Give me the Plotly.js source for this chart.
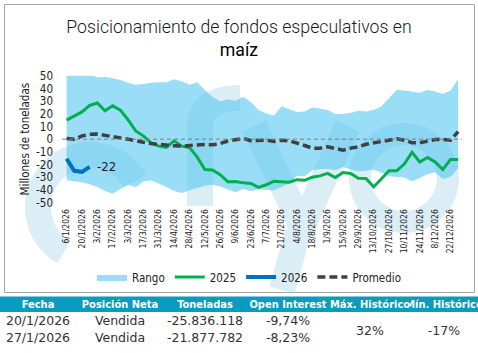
<!DOCTYPE html>
<html><head><meta charset="utf-8">
<script src="https://cdn.plot.ly/plotly-3.0.1.min.js"></script>
<style>html,body{margin:0;padding:0;background:#fff}#chart{width:478px;height:353px}</style>
</head><body><div id="chart"></div>
<script>
const weeks = ['6/1/2026','13/1/2026','20/1/2026','27/1/2026','3/2/2026','10/2/2026','17/2/2026','24/2/2026',
 '3/3/2026','10/3/2026','17/3/2026','24/3/2026','31/3/2026','7/4/2026','14/4/2026','21/4/2026','28/4/2026',
 '5/5/2026','12/5/2026','19/5/2026','26/5/2026','2/6/2026','9/6/2026','16/6/2026','23/6/2026','30/6/2026',
 '7/7/2026','14/7/2026','21/7/2026','28/7/2026','4/8/2026','11/8/2026','18/8/2026','25/8/2026',
 '1/9/2026','8/9/2026','15/9/2026','22/9/2026','29/9/2026','6/10/2026','13/10/2026','20/10/2026','27/10/2026',
 '3/11/2026','10/11/2026','17/11/2026','24/11/2026','1/12/2026','8/12/2026','15/12/2026','22/12/2026','29/12/2026'];
const rangoMax = [52,53,52,51,48.8,49,48,46.7,44.6,43,43.5,44.6,45,45,47.2,45.6,43,44.9,38.8,33.5,29.8,31.4,30.3,33.5,29.3,23,
 20.3,18.7,26,23.5,21.4,21.9,25,24,23,19.8,19.8,20.8,22.4,21.9,23,26,32.5,38.8,38.3,37.7,36.7,38.8,37.7,35.6,38.3,47.2];
const rangoMin = [-32.5,-33.5,-34,-35.6,-37.7,-40.9,-43,-39.3,-36,-38,-33.5,-32.5,-35,-37.7,-40.9,-42.5,-40.4,-38.3,-36.7,-36,
 -37.2,-39.8,-42,-39.3,-40.9,-39.5,-39.8,-40.4,-37.7,-35,-28.8,-29.3,-24.5,-23.5,-23.5,-24.5,-21.9,-24,-25.6,-25,-24,-26.6,
 -29.3,-29.8,-30.3,-33.5,-30.3,-27.7,-26.1,-31.4,-29.8,-23];
const serie2025 = [15,18,21.5,26.6,28.5,22.4,26.3,22.9,15.3,6.5,2.6,-3,-5.5,-6.6,-1.3,-5.5,-6.6,-14,-24,-24.3,-28,-33.7,-33.5,
 -34.5,-35,-38,-36,-33.2,-33.5,-34,-32,-32.5,-30,-29,-27,-30.3,-26.3,-27.1,-30.8,-31,-37.7,-31,-25,-25,-19.5,-10.3,-18,-14.5,
 -18,-24,-16,-16];
const serie2026 = [-15.5,-25,-25.8,-21.9];
const promedio = [0.5,0,2.5,3.8,4,3.2,2,1,0,-1.5,-2.5,-3.5,-4.3,-4.8,-5.3,-5.5,-5,-4.7,-4.2,-4.5,-3.5,-1.5,-0.6,0.6,-1.2,-0.8,
 -0.8,-1.8,-0.8,-1.3,-2.9,-5,-7.1,-7.1,-6,-7.7,-8.7,-7.1,-6,-4,-2.9,-1.8,-0.8,0.3,-0.8,-2.9,-2.9,-1.3,-0.3,-0.3,-0.8,6];
const yTickVals = [-50,-40,-30,-20,-10,0,10,20,30,40,50];
const yTickText = yTickVals.map(v => String(v));
const tableHeader = ['Fecha','Posición Neta','Toneladas','Open Interest','Máx. Histórico','Mín. Histórico'];
const tableFecha = ['20/1/2026','27/1/2026'];
const tablePosicion = ['Vendida','Vendida'];
const tableToneladas = ['-25.836.118','-21.877.782'];
const tableOI = ['-9,74%','-8,23%'];
const tableMax = ['32%'];
const tableMin = ['-17%'];

const W = 478, H = 353;
const NARROW = '"Liberation Sans Narrow", "Arial Narrow", "DejaVu Sans Condensed", sans-serif';
const px = v => v / W, py = v => 1 - v / H;
const nb = s => s.replace(/ /g, '\u00a0');
const CLEAR = 'rgba(0,0,0,0)';

const wmSvg = '<svg xmlns="http://www.w3.org/2000/svg" width="478" height="353" viewBox="0 0 478 353" preserveAspectRatio="none">' +
 '<g fill="none" stroke="#DCEEF5" stroke-width="26">' +
 '<path d="M 64,252 A 52,52 0 1 1 135,181"/>' +
 '<path d="M200,206 L200,128 Q200,98 240,98"/>' +
 '<path d="M254,126 L300,222"/>' +
 '<path d="M348,126 L296,240 L282,290"/>' +
 '<circle cx="404" cy="178" r="44" stroke-width="22"/>' +
 '</g></svg>';

const traces = [
 {type:'scatter', mode:'lines', x:weeks, y:rangoMin, line:{width:0}, showlegend:false, hoverinfo:'skip'},
 {type:'scatter', mode:'lines', x:weeks, y:rangoMax, name:'Rango', fill:'tonexty', fillcolor:'rgba(85,198,242,0.6)', line:{width:0}},
 {type:'scatter', mode:'lines', x:weeks, y:serie2025, name:'2025', line:{color:'#00B050', width:3}},
 {type:'scatter', mode:'lines', x:weeks.slice(0, serie2026.length), y:serie2026, name:'2026', line:{color:'#0070C0', width:4}},
 {type:'scatter', mode:'lines', x:weeks, y:promedio, name:'Promedio', line:{color:'#404040', width:3.5, dash:'8px,4px'}},
 {type:'table', domain:{x:[0,1], y:[py(352), py(291.5)]}, columnwidth:[76,88,82,84,80,68],
  header:{values:tableHeader.map(nb), fill:{color:CLEAR}, line:{width:0, color:CLEAR}, align:'center', height:16,
   font:{family:NARROW, size:11, color:'#fff', weight:'bold'}},
  cells:{values:[tableFecha, tablePosicion, tableToneladas, tableOI, ['',''], ['','']], fill:{color:CLEAR},
   line:{width:0, color:CLEAR}, align:'center', height:17.5, font:{family:'DejaVu Sans', size:12.5, color:'#333'}}},
 {type:'table', domain:{x:[px(330),1], y:[py(352), py(318)]}, columnwidth:[80,68],
  header:{values:[tableMax, tableMin], fill:{color:CLEAR}, line:{width:0, color:CLEAR}, align:'center', height:20,
   font:{family:'DejaVu Sans', size:12.5, color:'#333'}},
  cells:{values:[[''],['']], fill:{color:CLEAR}, line:{width:0, color:CLEAR}, height:10}}
];

const layout = {
 width:W, height:H, autosize:false, margin:{l:0,r:0,t:0,b:0}, paper_bgcolor:'#fff', plot_bgcolor:CLEAR,
 title:{text:'Posicionamiento de fondos especulativos en<br><span style="font-weight:400;color:#000">maíz</span>', xref:'container', x:0.5,
  y:py(33), yanchor:'top', font:{family:'Roboto', size:17.7, weight:300, color:'#1a1a1a'}},
 xaxis:{type:'category', domain:[px(62), px(462)], range:[-0.6, 51.5], tickmode:'linear', tick0:0, dtick:2, tickangle:-90,
  ticks:'', ticklabelstandoff:4, showgrid:false, zeroline:false, showline:false, fixedrange:true,
  tickfont:{family:NARROW, size:8.5, color:'#222'}},
 yaxis:{domain:[py(202.5), py(75.8)], range:[-50,50], tickvals:yTickVals, ticktext:yTickText, ticks:'', ticklabelstandoff:8,
  showgrid:false, zeroline:false, showline:false, fixedrange:true, tickfont:{family:NARROW, size:11.5, color:'#222'},
  title:{text:'\u00a0\u00a0\u00a0Millones de toneladas', standoff:4, font:{family:NARROW, size:11.5, color:'#222'}}},
 legend:{orientation:'h', traceorder:'normal', x:px(92), xanchor:'left', y:py(277), yanchor:'middle',
  itemwidth:30, bgcolor:CLEAR, font:{family:NARROW, size:11.5, color:'#222'}},
 annotations:[{x:weeks[serie2026.length-1], y:serie2026[serie2026.length-1], xref:'x', yref:'y', text:String(Math.round(serie2026[serie2026.length-1])),
  showarrow:false, xanchor:'left', xshift:5, font:{family:NARROW, size:13, color:'#222'}}],
 shapes:[
  {type:'rect', xref:'paper', yref:'paper', x0:px(4.5), x1:px(474.5), y0:py(292.5), y1:py(4.5), line:{color:'#A6A6A6', width:1}, layer:'below'},
  {type:'rect', xref:'paper', yref:'paper', x0:0, x1:1, y0:py(312), y1:py(296.5), fillcolor:'#0A9BC0', line:{width:0}, layer:'below'},
  {type:'line', xref:'x domain', yref:'y', x0:0, x1:1, y0:0, y1:0, line:{color:'#7F7F7F', width:1, dash:'4px,3px'}, layer:'above'}
 ],
 images:[{source:'data:image/svg+xml;charset=utf-8,' + encodeURIComponent(wmSvg), xref:'paper', yref:'paper', x:0, y:1,
  sizex:1, sizey:1, sizing:'stretch', xanchor:'left', yanchor:'top', layer:'below'}]
};

Plotly.newPlot('chart', traces, layout, {staticPlot:true, displayModeBar:false});
</script></body></html>
